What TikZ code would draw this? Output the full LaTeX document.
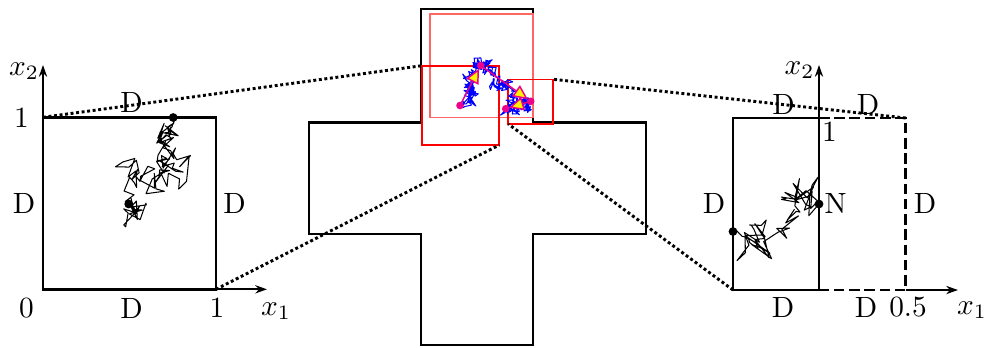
\documentclass[tikz,border=0pt]{standalone}
\usetikzlibrary{arrows.meta, calc}
\tikzstyle{crossline} = [line width=0.8pt, line join=miter]
\tikzstyle{unitbox} = [line width=0.9pt]
\tikzstyle{ghost} = [line width=0.9pt, dash pattern=on 3.6pt off 1.6pt]
\tikzstyle{axisarrow} = [line width=0.7pt, -{Stealth[length=4pt, width=2.8pt]}]
\tikzstyle{zoomline} = [line width=1pt, dash pattern=on 1pt off 0.9pt]
\tikzstyle{redsquare} = [draw=red, line width=0.55pt]
\tikzstyle{walkline} = [line width=0.35pt, line join=round]
\tikzstyle{jumparrow} = [draw=magenta, line width=0.5pt, -{Triangle[fill=yellow, length=5pt, width=4.6pt]}, shorten >=1.2pt]
\tikzstyle{lbl} = [inner sep=0pt]

% jagged path from (#1,#2) to (#3,#4), #5 steps, kick #6, seed #7,
% reflected at x=\bwxmin, x=#8 and y=#9
\def\bwxmin{0}
\newcommand{\brownpath}[9]{%
	\pgfmathsetseed{#7}%
	\xdef\bwox{0}\xdef\bwoy{0}%
	\xdef\bwpath{(#1,#2)}%
	\foreach \k in {1,...,#5}{%
		\pgfmathsetmacro{\bwt}{\k/#5}%
		\pgfmathsetmacro{\bwf}{min(1,(#5-\k)/6)}%
		\pgfmathsetmacro{\bwox}{0.92*\bwox+#6*rand}%
		\pgfmathsetmacro{\bwoy}{0.92*\bwoy+#6*rand}%
		\pgfmathsetmacro{\bwxn}{#1+(#3-#1)*\bwt+\bwf*(\bwox+1.1*#6*rand)}%
		\pgfmathsetmacro{\bwyn}{#2+(#4-#2)*\bwt+\bwf*(\bwoy+1.1*#6*rand)}%
		\pgfmathsetmacro{\bwxn}{\bwxn>#8 ? 2*#8-\bwxn : \bwxn}%
		\pgfmathsetmacro{\bwxn}{\bwxn<\bwxmin ? 2*\bwxmin-\bwxn : \bwxn}%
		\pgfmathsetmacro{\bwyn}{\bwyn<#9 ? 2*#9-\bwyn : \bwyn}%
		\xdef\bwox{\bwox}\xdef\bwoy{\bwoy}%
		\xdef\bwpath{\bwpath -- (\bwxn,\bwyn)}%
	}%
}

\begin{document}
\begin{tikzpicture}[x=0.012cm, y=-0.012cm]
	\useasboundingbox (0,0) rectangle (988,347);
	
	% cross shaped domain
	\draw[crossline] (421,9) -- (533,9) -- (533,122.5) -- (646,122.5) -- (646,234.3) -- (533,234.3) -- (533,345) -- (421,345) -- (421,234.3) -- (309,234.3) -- (309,122.5) -- (421,122.5) -- cycle;
	
	\coordinate(b2nw) at (421.7,65.7);
	\coordinate(b2se) at (499.3,145);
	\coordinate(b3ne) at (553.3,79.3);
	\coordinate(b3sw) at (508.3,124);
	\draw[redsquare, draw=red!60] (430,14) rectangle (533.3,117.3);
	\draw[redsquare] (b2nw) rectangle (b2se);
	\draw[redsquare] (b3sw) rectangle (b3ne);
	
	\coordinate(m1) at (460,105.5);
	\coordinate(m2) at (480.7,65.5);
	\coordinate(m3) at (530.7,101.3);
	\coordinate(m4) at (505.7,108.7);
	\def\bwxmin{421}
	\brownpath{460}{105.5}{480.7}{65.5}{130}{3.5}{11}{533}{9}
	\draw[walkline, blue] \bwpath;
	\brownpath{480.7}{65.5}{530.7}{101.3}{140}{3.5}{23}{533}{9}
	\draw[walkline, blue] \bwpath;
	\brownpath{530.7}{101.3}{505.7}{108.7}{80}{3}{5}{533}{9}
	\draw[walkline, blue] \bwpath;
	\draw[jumparrow] (m1) -- (m2);
	\draw[jumparrow] (m2) -- (m3);
	\draw[jumparrow] (m3) -- (m4);
	\foreach \m in {m1,m2,m3,m4}
		\fill[magenta] (\m) circle (1.3pt);
	
	% left unit square
	\coordinate(l00) at (43,289.3);
	\coordinate(l01) at (43,117.3);
	\coordinate(l10) at (216,289.3);
	\coordinate(l11) at (216,117.3);
	\coordinate(lx1end) at (267,289.3);
	\coordinate(lx2end) at (43,65);
	\draw[unitbox] (l00) rectangle (l11);
	\draw[axisarrow] (l00) -- (lx1end);
	\draw[axisarrow] (l00) -- (lx2end);
	\coordinate(lstart) at (128.7,204);
	\coordinate(lexit) at (173.2,117.5);
	\def\bwxmin{43}
	\brownpath{128.7}{204}{173.2}{117.5}{120}{8}{7}{216}{117.5}
	\draw[walkline] \bwpath;
	\fill (lstart) circle (1.5pt);
	\fill (lexit) circle (1.5pt);
	
	% right half square
	\coordinate(r00) at (733,290);
	\coordinate(r01) at (733,118);
	\coordinate(rm0) at (819,290);
	\coordinate(rm1) at (819,118);
	\coordinate(r10) at (905.7,290);
	\coordinate(r11) at (905.7,118);
	\coordinate(rx1end) at (958,290);
	\coordinate(rx2end) at (819,65);
	\draw[unitbox] (rm1) -- (r01) -- (r00) -- (rm0);
	\draw[ghost] (rm1) -- (r11) -- (r10) -- (rm0);
	\draw[axisarrow] (rm0) -- (rx2end);
	\draw[axisarrow] (r10) -- (rx1end);
	\coordinate(rstart) at (819,204);
	\coordinate(rexit) at (733,231.5);
	\def\bwxmin{734}
	\brownpath{819}{204}{733}{231.5}{70}{10}{3}{819}{118}
	\draw[walkline] \bwpath;
	\fill (rstart) circle (1.5pt);
	\fill (rexit) circle (1.5pt);
	
	% zoom lines
	\draw[zoomline] (l01) -- (b2nw);
	\draw[zoomline] (l10) -- (b2se);
	\draw[zoomline] (r11) -- (b3ne);
	\draw[zoomline] (r00) -- (b3sw);
	
	% Labels
	\node(lx2)[lbl] at (24,71) {$x_2$};
	\node(lone2)[lbl] at (21.5,118) {$1$};
	\node(lzero)[lbl] at (26.5,308) {$0$};
	\node(lone1)[lbl] at (217,308) {$1$};
	\node(lx1)[lbl] at (276,311) {$x_1$};
	\node(ldtop)[lbl] at (131.5,102) {D};
	\node(ldbot)[lbl] at (131.5,308) {D};
	\node(ldleft)[lbl] at (24,203) {D};
	\node(ldright)[lbl] at (234.5,203) {D};
	\node(rx2)[lbl] at (799.5,70) {$x_2$};
	\node(rdtopl)[lbl] at (783.5,104) {D};
	\node(rdtopr)[lbl] at (868,104) {D};
	\node(rone)[lbl] at (829.5,132) {$1$};
	\node(rdleft)[lbl] at (714,203) {D};
	\node(rn)[lbl] at (835.5,203) {N};
	\node(rdright)[lbl] at (925,203) {D};
	\node(rdbotl)[lbl] at (783,307) {D};
	\node(rdbotr)[lbl] at (866,307) {D};
	\node(rhalf)[lbl] at (908,307) {$0.5$};
	\node(rx1)[lbl] at (972,310) {$x_1$};
\end{tikzpicture}
\end{document}
